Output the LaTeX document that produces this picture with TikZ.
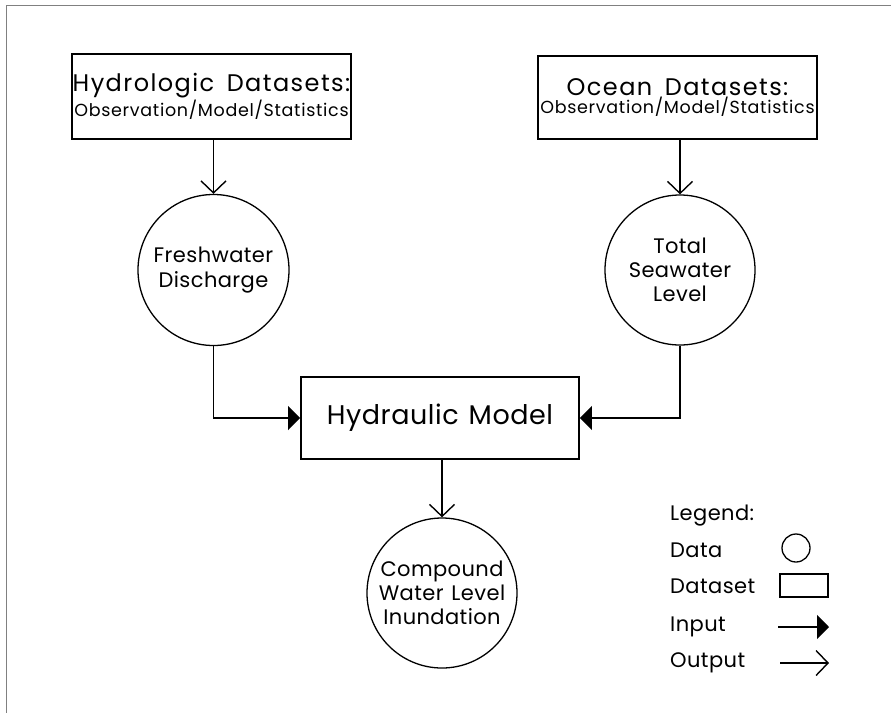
\documentclass[tikz,border=0pt]{standalone}
\usepackage{fontspec}
\setmainfont{Poppins}
\newfontfamily\headfont{Poppins}[LetterSpace=6,WordSpace=1.6]
\newfontfamily\subfont{Poppins}[LetterSpace=4]
\newfontfamily\bodyfont{Poppins}[LetterSpace=2,WordSpace=1.3]
\usetikzlibrary{arrows.meta}
\begin{document}
\begin{tikzpicture}[x=1pt,y=-1pt,
  framel/.style={draw=black!50,line width=1pt},
  dsbox/.style={draw,line width=1.8pt,rectangle,inner sep=0pt,align=center},
  databub/.style={draw,line width=1.3pt,circle,inner sep=0pt,align=center},
  outarrow/.style={line width=1.4pt,-{Straight Barb[length=12pt,width=25pt,line width=1.4pt]}},
  inarrow/.style={line width=1.4pt,-{Triangle[length=12pt,width=24pt]}},
  legtext/.style={anchor=base west,inner sep=0pt,font=\bodyfont\fontsize{21}{24}\selectfont}
]
\useasboundingbox (0,0) rectangle (891,713);
% partial frame
\coordinate (ftl) at (6,5);
\coordinate (ftr) at (891,5);
\coordinate (fbl) at (6,713);
\draw[framel] (ftr) -- (ftl) -- (fbl);

% dataset boxes
\node[dsbox,minimum width=279pt,minimum height=85pt] (hyd) at (211.5,96.5)
  {{\headfont\fontsize{24}{25}\selectfont Hydrologic Datasets:}\\[1pt]{\subfont\fontsize{17.5}{19}\selectfont Observation/Model/Statistics}};
\node[dsbox,minimum width=279pt,minimum height=83pt] (ocean) at (677.5,97.5)
  {{\headfont\fontsize{24}{25}\selectfont Ocean Datasets:}\\[1pt]{\subfont\fontsize{17.5}{19}\selectfont Observation/Model/Statistics}};

% data circles
\node[databub,minimum size=151pt,font=\bodyfont\fontsize{21}{25}\selectfont] (fresh) at (213.5,270) {Freshwater\\Discharge};
\node[databub,minimum size=150pt,font=\bodyfont\fontsize{21}{24}\selectfont] (sea) at (680,270) {Total\\Seawater\\Level};

% model
\node[dsbox,minimum width=278pt,minimum height=82pt,font=\bodyfont\fontsize{27}{30}\selectfont] (hm) at (440,418) {Hydraulic Model};

% output
\node[databub,minimum size=150pt,font=\bodyfont\fontsize{21}{24}\selectfont] (comp) at (442,593) {Compound\\Water Level\\Inundation};

% connectors
\draw[outarrow] (fresh.north |- hyd.south) -- (fresh.north);
\draw[outarrow] (sea.north |- ocean.south) -- (sea.north);
\draw[inarrow] (fresh.south) |- (hm.west);
\draw[inarrow] (sea.south) |- (hm.east);
\draw[outarrow] (comp.north |- hm.south) -- (comp.north);

% legend
\node[legtext] (lgtitle) at (670,520) {Legend:};
\node[legtext] (lgdata) at (670,557) {Data};
\node[legtext] (lgdataset) at (670,593) {Dataset};
\node[legtext] (lginput) at (670,631) {Input};
\node[legtext] (lgoutput) at (670,667) {Output};
\node[draw,line width=1.3pt,circle,minimum size=28pt,inner sep=0pt] (lgcirc) at (796,548) {};
\node[draw,line width=1.8pt,rectangle,minimum width=48pt,minimum height=23pt,inner sep=0pt] (lgrect) at (804,585.5) {};
\coordinate (lgia) at (778,627);
\coordinate (lgib) at (829,627);
\coordinate (lgoa) at (780,663);
\coordinate (lgob) at (829,663);
\draw[inarrow] (lgia) -- (lgib);
\draw[outarrow] (lgoa) -- (lgob);
\end{tikzpicture}
\end{document}
